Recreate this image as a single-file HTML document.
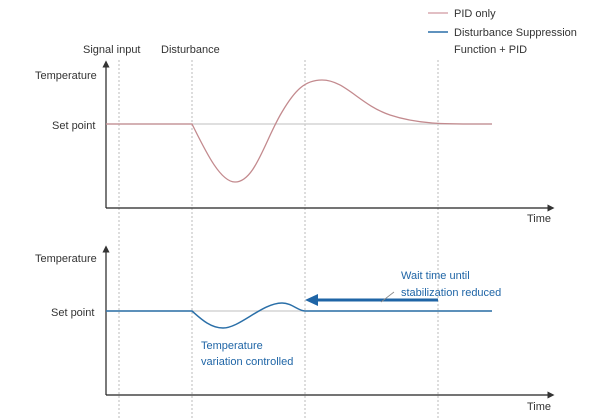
<!DOCTYPE html><html><head><style>body{margin:0;background:#fff}svg{display:block}text{font-family:"Liberation Sans",sans-serif;font-size:11px;fill:#333}</style></head><body>
<svg width="600" height="419" viewBox="0 0 600 419">
<defs><marker id="ah" markerWidth="6" markerHeight="6" refX="3" refY="3" orient="auto"><path d="M0,0L6,3L0,6z" fill="#333"/></marker></defs>
<g stroke="#bbb" stroke-dasharray="2,2" stroke-width="1">
<line x1="119" y1="60" x2="119" y2="419"/><line x1="192" y1="60" x2="192" y2="419"/><line x1="305" y1="60" x2="305" y2="419"/><line x1="438" y1="60" x2="438" y2="419"/></g>
<g stroke="#222" stroke-width="1.2" fill="none">
<line x1="106" y1="208" x2="106" y2="64" marker-end="url(#ah)"/><line x1="106" y1="208" x2="551" y2="208" marker-end="url(#ah)"/>
<line x1="106" y1="395" x2="106" y2="249" marker-end="url(#ah)"/><line x1="106" y1="395" x2="551" y2="395" marker-end="url(#ah)"/></g>
<line x1="106" y1="124" x2="492" y2="124" stroke="#ccc" stroke-width="1.2"/>
<line x1="106" y1="311" x2="492" y2="311" stroke="#ccc" stroke-width="1.2"/>
<path d="M106,124H192C205,150 220,182 235,182C255,182 265,140 282,112C295,90 305,80 322,80C345,80 360,105 390,115C420,125 450,124 492,124" fill="none" stroke="#c38a8e" stroke-width="1.3"/>
<path d="M106,311H192C200,318 210,328 223,328C240,328 262,303 282,303C292,303 298,311 305,311H492" fill="none" stroke="#2a6fa8" stroke-width="1.5"/>
<line x1="438" y1="300" x2="316" y2="300" stroke="#1f65a6" stroke-width="3"/><path d="M305,300L318,294V306z" fill="#1f65a6"/>
<line x1="381" y1="302" x2="394" y2="292" stroke="#888" stroke-width="0.8"/>
<line x1="428" y1="13" x2="448" y2="13" stroke="#d8aab0" stroke-width="1.5"/>
<line x1="428" y1="32" x2="448" y2="32" stroke="#2a6fa8" stroke-width="1.5"/>
<text x="454" y="17">PID only</text><text x="454" y="36">Disturbance Suppression</text><text x="454" y="53">Function + PID</text>
<text x="83" y="53">Signal input</text><text x="161" y="53">Disturbance</text>
<text x="35" y="79">Temperature</text><text x="52" y="129">Set point</text><text x="527" y="222">Time</text>
<text x="35" y="262">Temperature</text><text x="51" y="316">Set point</text><text x="527" y="410">Time</text>
<text x="401" y="279" style="fill:#1f65a6">Wait time until</text><text x="401" y="296" style="fill:#1f65a6">stabilization reduced</text>
<text x="201" y="349" style="fill:#1f65a6">Temperature</text><text x="201" y="365" style="fill:#1f65a6">variation controlled</text>
</svg></body></html>
